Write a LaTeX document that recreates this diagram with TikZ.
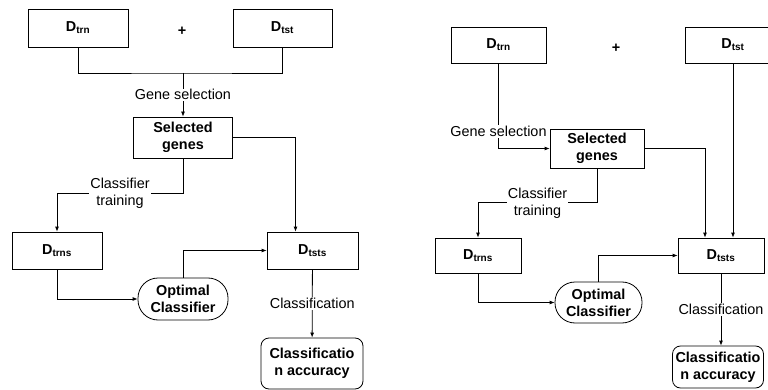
\documentclass[tikz,border=0pt]{standalone}
\usepackage{fontspec}
\setmainfont{Liberation Sans}
\usepackage{tikz}
\usetikzlibrary{arrows.meta, positioning}
\tikzset{>={Latex[width=4pt,length=5pt]}}
\tikzset{
  box/.style = {draw, rectangle, align=center, inner sep=0pt, font=\bfseries},
  term/.style = {box, rounded corners=20pt},
  resbox/.style = {box, rounded corners=8pt},
  lbl/.style = {fill=white, inner sep=1pt, align=center},
}
\begin{document}
\fontsize{14.4}{17}\selectfont
\begin{tikzpicture}[x=1pt, y=-1pt, line width=0.8pt]
		\useasboundingbox (0,0) rectangle (768,390);
		\clip (0,0) rectangle (768,390);
		% left scheme
		\node (trn) [box, minimum width=100pt, minimum height=38pt] at (78,28) {D\textsubscript{trn}};
		\node (plus) [font=\bfseries] at (182,31) {+};
		\node (tst) [box, minimum width=99pt, minimum height=38pt] at (282.5,28) {D\textsubscript{tst}};
		\coordinate (gj) at (183,73);
		\node (sel) [box, minimum width=99pt, minimum height=41pt] at (183,137.5) {Selected\\genes};
		\node (trns) [box, minimum width=90pt, minimum height=37pt] at (57,250.5) {D\textsubscript{trns}};
		\node (tsts) [box, minimum width=91pt, minimum height=37pt] at (312.5,250.5) {D\textsubscript{tsts}};
		\node (opt) [term, minimum width=90pt, minimum height=42pt] at (183,299) {Optimal\\Classifier};
		\node (acc) [resbox, minimum width=102pt, minimum height=51pt] at (312,363.5) {Classificatio\\n accuracy};
		\draw (trn.south) |- (gj) -| (tst.south);
		\draw[->] (gj) -- node[lbl] {Gene selection} (sel);
		\draw[->] (sel.east) -| ([xshift=-17pt]tsts.north);
		\draw[->] (sel.south) -- ++(0,35) -| node[lbl, pos=0.25] {Classifier\\training} (trns.north);
		\draw[->] (trns.south) |- (opt.west);
		\draw[->] (opt.north) |- (tsts.west);
		\draw[->] (tsts) -- node[lbl] {Classification} (acc);
		% right scheme
		\node (trn2) [box, minimum width=95pt, minimum height=36pt] at (498.5,45) {D\textsubscript{trn}};
		\node (plus2) [font=\bfseries] at (616,48) {+};
		\node (tst2) [box, minimum width=95pt, minimum height=36pt] at (733,45) {D\textsubscript{tst}};
		\node (sel2) [box, minimum width=94pt, minimum height=39pt] at (597,148.5) {Selected\\genes};
		\node (trns2) [box, minimum width=86pt, minimum height=35pt] at (478,255.5) {D\textsubscript{trns}};
		\node (tsts2) [box, minimum width=86pt, minimum height=35pt] at (721,255.5) {D\textsubscript{tsts}};
		\node (opt2) [term, minimum width=87pt, minimum height=41pt] at (598.5,302.5) {Optimal\\Classifier};
		\node (acc2) [resbox, minimum width=91pt, minimum height=42pt] at (718,367) {Classificatio\\n accuracy};
		\draw[->] (trn2.south) |- node[lbl, pos=0.4] {Gene selection} (sel2.west);
		\draw[->] (sel2.east) -| ([xshift=-16pt]tsts2.north);
		\draw[->] (tst2.south) -- (tst2.south |- tsts2.north);
		\draw[->] (sel2.south) -- ++(0,34.5) -| node[lbl, pos=0.25] {Classifier\\training} (trns2.north);
		\draw[->] (trns2.south) |- (opt2.west);
		\draw[->] (opt2.north) |- (tsts2.west);
		\draw[->] (tsts2.south) -- node[lbl] {Classification} (tsts2.south |- acc2.north);
\end{tikzpicture}
\end{document}
